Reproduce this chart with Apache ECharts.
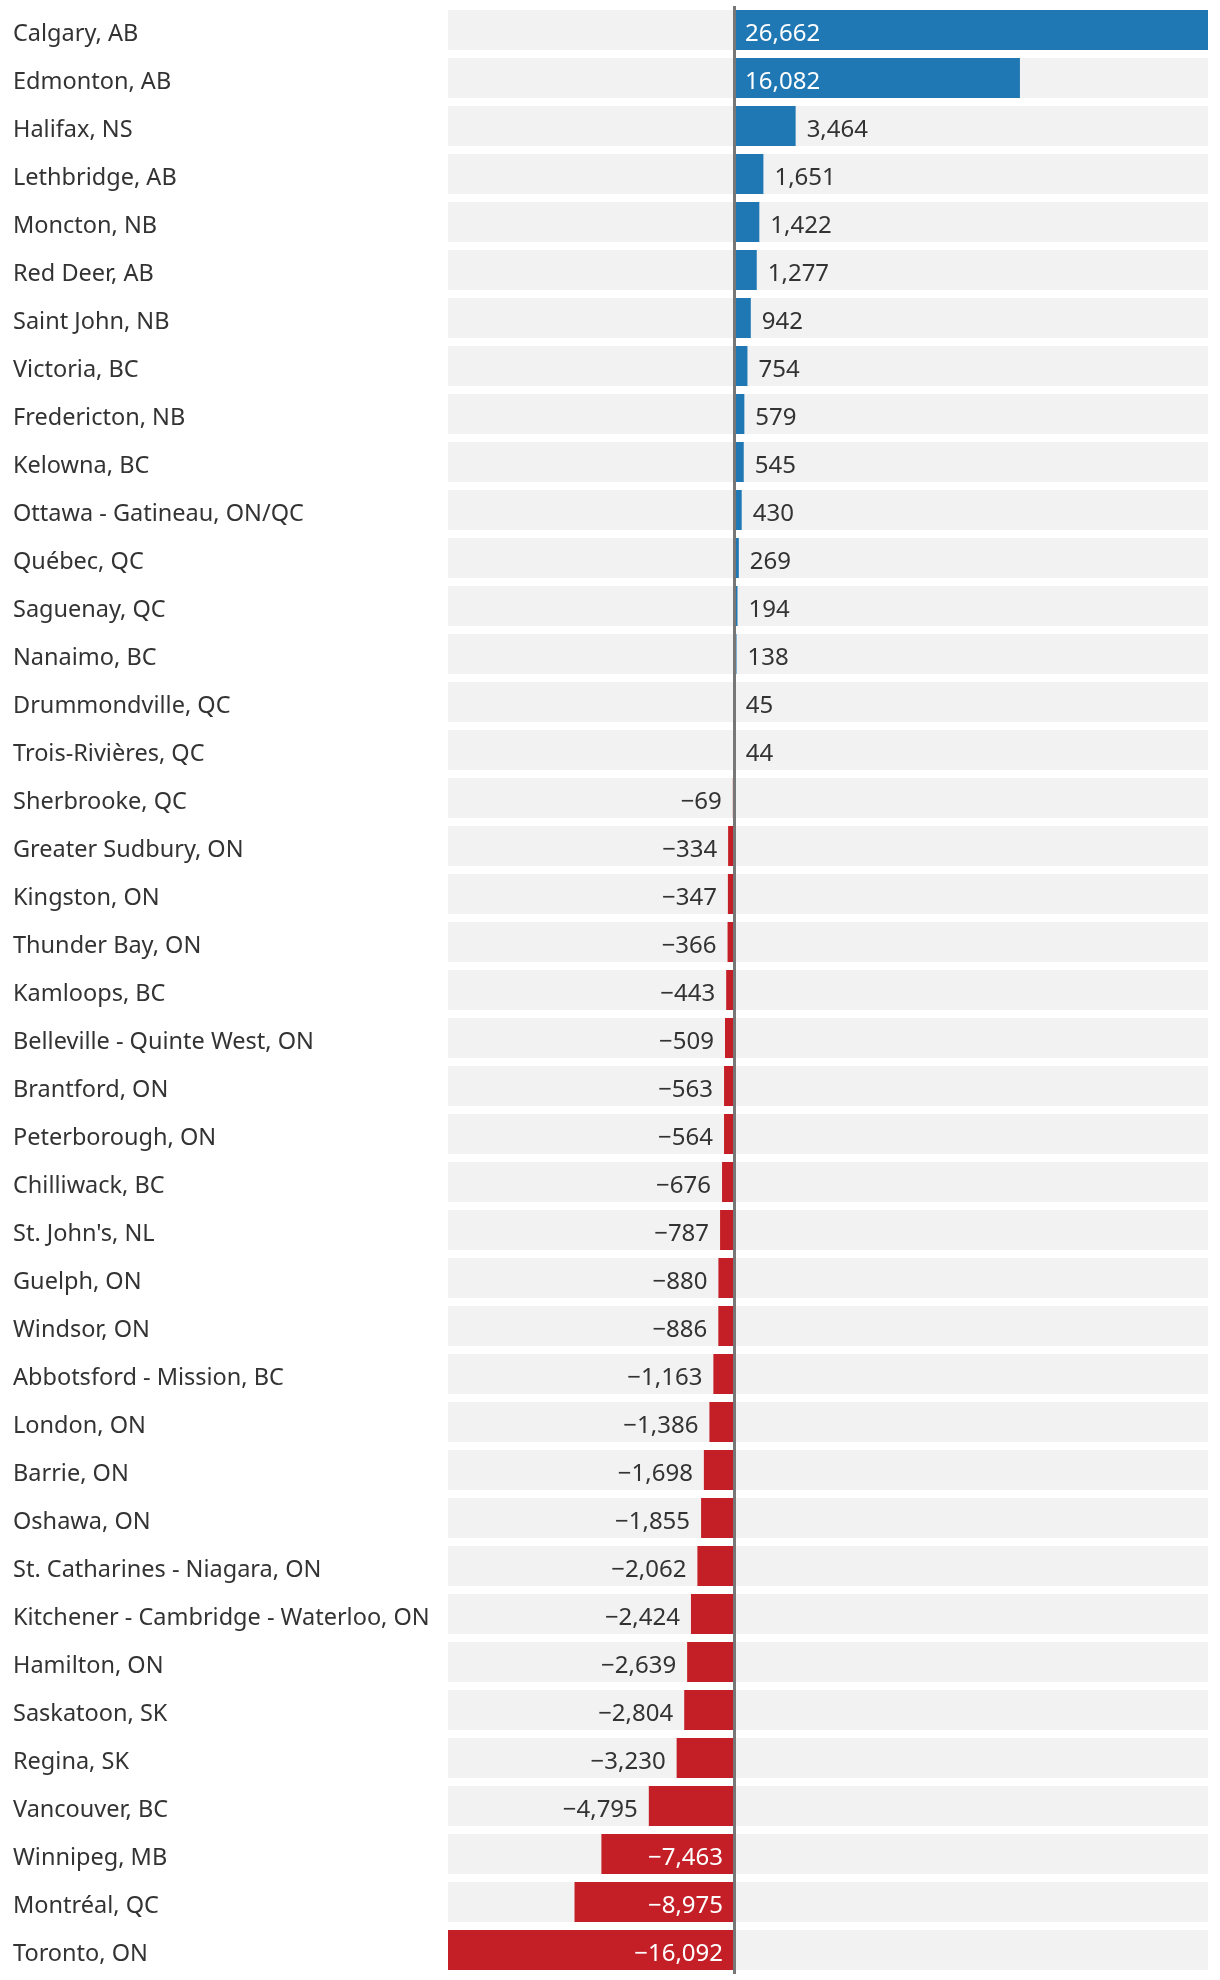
<!DOCTYPE html>
<html>
<head>
<meta charset="utf-8">
<script src="https://cdn.jsdelivr.net/npm/echarts@6/dist/echarts.min.js"></script>
<style>
  html, body { margin: 0; padding: 0; background: #ffffff; }
  #chart { width: 1220px; height: 1980px; }
</style>
</head>
<body>
<div id="chart"></div>
<script>
const categories = [
  "Calgary, AB", "Edmonton, AB", "Halifax, NS", "Lethbridge, AB", "Moncton, NB",
  "Red Deer, AB", "Saint John, NB", "Victoria, BC", "Fredericton, NB", "Kelowna, BC",
  "Ottawa - Gatineau, ON/QC", "Québec, QC", "Saguenay, QC", "Nanaimo, BC", "Drummondville, QC",
  "Trois-Rivières, QC", "Sherbrooke, QC", "Greater Sudbury, ON", "Kingston, ON", "Thunder Bay, ON",
  "Kamloops, BC", "Belleville - Quinte West, ON", "Brantford, ON", "Peterborough, ON", "Chilliwack, BC",
  "St. John's, NL", "Guelph, ON", "Windsor, ON", "Abbotsford - Mission, BC", "London, ON",
  "Barrie, ON", "Oshawa, ON", "St. Catharines - Niagara, ON", "Kitchener - Cambridge - Waterloo, ON", "Hamilton, ON",
  "Saskatoon, SK", "Regina, SK", "Vancouver, BC", "Winnipeg, MB", "Montréal, QC",
  "Toronto, ON"
];
const values = [
  26662, 16082, 3464, 1651, 1422,
  1277, 942, 754, 579, 545,
  430, 269, 194, 138, 45,
  44, -69, -334, -347, -366,
  -443, -509, -563, -564, -676,
  -787, -880, -886, -1163, -1386,
  -1698, -1855, -2062, -2424, -2639,
  -2804, -3230, -4795, -7463, -8975,
  -16092
];

const POS = '#1f77b4';
const NEG = '#c41f26';
const FONT = '"Noto Sans", sans-serif';
const INSIDE_THRESHOLD = 6000;

function fmt(v) {
  return (v < 0 ? '\u2212' : '') + Math.abs(v).toLocaleString('en-US');
}

const barData = values.map(v => {
  const inside = Math.abs(v) > INSIDE_THRESHOLD;
  let position;
  if (v >= 0) position = inside ? 'insideLeft' : 'right';
  else position = inside ? 'insideRight' : 'left';
  return {
    value: v,
    itemStyle: { color: v >= 0 ? POS : NEG },
    label: { position: position, color: inside ? '#ffffff' : '#333333' }
  };
});

const chart = echarts.init(document.getElementById('chart'), null, { renderer: 'canvas' });
chart.setOption({
  animation: false,
  backgroundColor: '#ffffff',
  grid: { left: 448, right: 12, top: 6, bottom: 6, containLabel: false },
  xAxis: {
    type: 'value',
    min: Math.min(...values),
    max: Math.max(...values),
    show: false
  },
  yAxis: {
    type: 'category',
    data: categories,
    inverse: true,
    axisLine: { show: false, onZero: false },
    axisTick: { show: false },
    splitLine: { show: false },
    axisLabel: {
      align: 'left',
      verticalAlign: 'top',
      lineHeight: 8,
      margin: 435,
      color: '#333333',
      fontFamily: FONT,
      fontSize: 23.5
    }
  },
  series: [{
    type: 'bar',
    data: barData,
    barWidth: 40,
    showBackground: true,
    backgroundStyle: { color: '#f2f2f2' },
    label: {
      show: true,
      distance: 11,
      offset: [0, 4],
      fontFamily: FONT,
      fontSize: 24,
      formatter: p => fmt(p.value)
    },
    markLine: {
      silent: true,
      symbol: 'none',
      label: { show: false },
      lineStyle: { color: '#777777', width: 3, type: 'solid' },
      data: [{ xAxis: 0 }],
      z: 10
    }
  }]
});
</script>
</body>
</html>
